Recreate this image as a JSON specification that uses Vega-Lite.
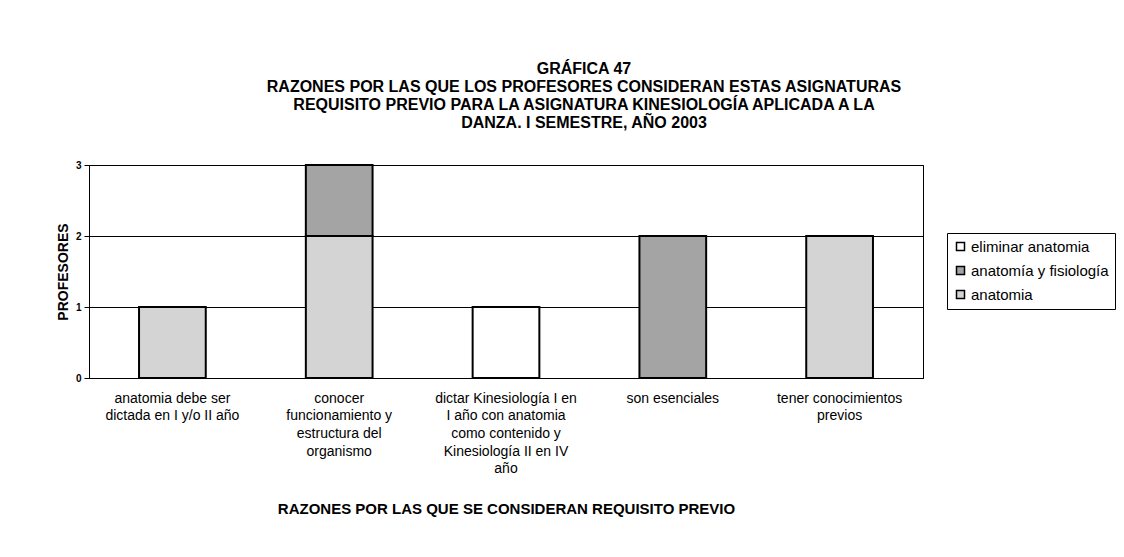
{
  "$schema": "https://vega.github.io/schema/vega-lite/v6.json",
  "width": 834,
  "height": 213,
  "autosize": {"type": "none"},
  "padding": {"left": 89, "top": 165, "right": 201, "bottom": 179},
  "background": "white",
  "config": {
    "font": "Liberation Sans",
    "view": {"stroke": "black", "strokeWidth": 1},
    "axis": {"labelColor": "black", "titleColor": "black"}
  },
  "title": {
    "text": [
      "GRÁFICA 47",
      "RAZONES POR LAS QUE LOS PROFESORES CONSIDERAN ESTAS ASIGNATURAS",
      "REQUISITO PREVIO PARA LA ASIGNATURA KINESIOLOGÍA APLICADA A LA",
      "DANZA.  I SEMESTRE, AÑO 2003"
    ],
    "font": "Liberation Sans",
    "fontSize": 16,
    "fontWeight": "bold",
    "color": "black",
    "anchor": "middle",
    "dx": 78,
    "offset": 29,
    "lineHeight": 18
  },
  "data": {
    "values": [
      {"razon": "anatomia debe ser|dictada en I y/o II año", "serie": "anatomia", "profesores": 1},
      {"razon": "conocer|funcionamiento y|estructura del|organismo", "serie": "anatomia", "profesores": 2},
      {"razon": "conocer|funcionamiento y|estructura del|organismo", "serie": "anatomía y fisiología", "profesores": 1},
      {"razon": "dictar Kinesiología I en|I año con anatomia|como contenido y|Kinesiología II en IV|año", "serie": "eliminar anatomia", "profesores": 1},
      {"razon": "son esenciales", "serie": "anatomía y fisiología", "profesores": 2},
      {"razon": "tener conocimientos|previos", "serie": "anatomia", "profesores": 2}
    ]
  },
  "mark": {"type": "bar", "stroke": "black", "strokeWidth": 2},
  "encoding": {
    "x": {
      "field": "razon",
      "type": "nominal",
      "sort": null,
      "scale": {"paddingInner": 0.6, "paddingOuter": 0.3},
      "axis": {
        "labelExpr": "split(datum.label, '|')",
        "labelAngle": 0,
        "labelFontSize": 14,
        "labelLineHeight": 17.7,
        "labelPadding": 13,
        "labelLimit": 0,
        "labelBaseline": "top",
        "ticks": false,
        "domainColor": "black",
        "title": "RAZONES POR LAS QUE SE CONSIDERAN REQUISITO PREVIO",
        "titleFontSize": 15,
        "titleFontWeight": "bold",
        "titlePadding": 26
      }
    },
    "y": {
      "field": "profesores",
      "type": "quantitative",
      "stack": "zero",
      "scale": {"domain": [0, 3], "nice": false},
      "axis": {
        "values": [0, 1, 2, 3],
        "grid": true,
        "gridColor": "black",
        "gridOpacity": 1,
        "domainColor": "black",
        "tickColor": "black",
        "tickSize": 5,
        "labelFontSize": 10,
        "labelFontWeight": "bold",
        "labelPadding": 3,
        "title": "PROFESORES",
        "titleFontSize": 14,
        "titleFontWeight": "bold",
        "titlePadding": 5
      }
    },
    "color": {
      "field": "serie",
      "type": "nominal",
      "scale": {
        "domain": ["eliminar anatomia", "anatomía y fisiología", "anatomia"],
        "range": ["#ffffff", "#a4a4a4", "#d4d4d4"]
      },
      "legend": {
        "orient": "none",
        "legendX": 858,
        "legendY": 68,
        "title": null,
        "strokeColor": "black",
        "fillColor": "white",
        "padding": 6,
        "symbolType": "square",
        "symbolSize": 64,
        "symbolStrokeColor": "black",
        "symbolStrokeWidth": 1.5,
        "labelOffset": 3,
        "labelFontSize": 15,
        "labelColor": "black",
        "rowPadding": 8
      }
    },
    "order": {"field": "serie", "sort": "ascending"}
  }
}
